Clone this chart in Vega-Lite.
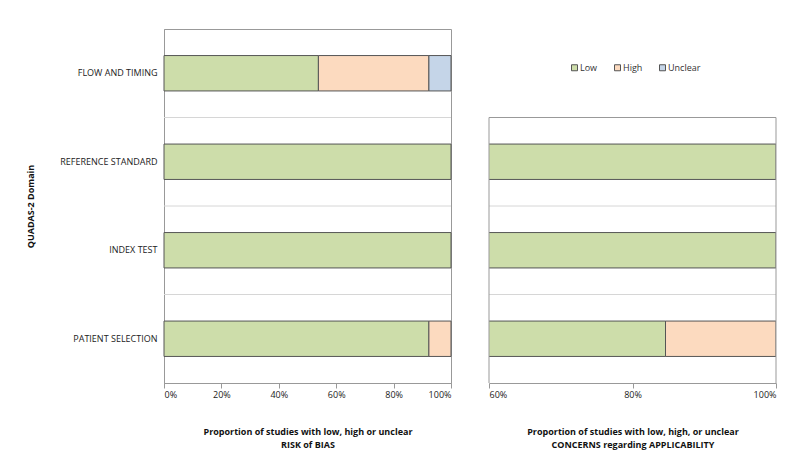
{
  "$schema": "https://vega.github.io/schema/vega-lite/v6.json",
  "padding": {"left": 26, "top": 28, "right": 5, "bottom": 5},
  "background": "white",
  "spacing": 36,
  "datasets": {
    "bias": [
      {"domain": "FLOW AND TIMING", "rating": "Low", "rank": 1, "value": 0.538},
      {"domain": "FLOW AND TIMING", "rating": "High", "rank": 2, "value": 0.385},
      {"domain": "FLOW AND TIMING", "rating": "Unclear", "rank": 3, "value": 0.077},
      {"domain": "REFERENCE STANDARD", "rating": "Low", "rank": 1, "value": 1.0},
      {"domain": "INDEX TEST", "rating": "Low", "rank": 1, "value": 1.0},
      {"domain": "PATIENT SELECTION", "rating": "Low", "rank": 1, "value": 0.923},
      {"domain": "PATIENT SELECTION", "rating": "High", "rank": 2, "value": 0.077}
    ],
    "applic": [
      {"domain": "REFERENCE STANDARD", "rating": "Low", "rank": 1, "value": 1.0},
      {"domain": "INDEX TEST", "rating": "Low", "rank": 1, "value": 1.0},
      {"domain": "PATIENT SELECTION", "rating": "Low", "rank": 1, "value": 0.846},
      {"domain": "PATIENT SELECTION", "rating": "High", "rank": 2, "value": 0.154}
    ],
    "dividers": [
      {"pos": 1},
      {"pos": 2},
      {"pos": 3}
    ],
    "edges": [
      {"edge": 0.6, "from": 0, "to": 3},
      {"edge": 1.0, "from": 0, "to": 3}
    ],
    "frametop": [
      {"lo": 0.6, "hi": 1.0, "top": 3}
    ]
  },
  "resolve": {"scale": {"color": "independent", "y": "independent", "x": "independent"}, "legend": {"color": "independent"}},
  "hconcat": [
    {
      "width": 287,
      "height": 354,
      "resolve": {"scale": {"y": "independent"}, "axis": {"y": "independent"}},
      "layer": [
        {
          "data": {"name": "dividers"},
          "mark": {"type": "rule", "color": "#d6d6d6", "strokeWidth": 1},
          "encoding": {
            "y": {"field": "pos", "type": "quantitative", "scale": {"domain": [0, 4], "nice": false}, "axis": null}
          }
        },
        {
          "data": {"name": "bias"},
          "mark": {"type": "bar", "stroke": "#555555", "strokeWidth": 1},
          "encoding": {
            "y": {
              "field": "domain", "type": "nominal",
              "sort": ["FLOW AND TIMING", "REFERENCE STANDARD", "INDEX TEST", "PATIENT SELECTION"],
              "scale": {"paddingInner": 0.6, "paddingOuter": 0.3},
              "axis": {"title": "QUADAS-2 Domain", "titleFontWeight": "bold", "titleFontSize": 9, "titlePadding": 24,
                       "labelFontSize": 9, "labelPadding": 7, "ticks": false, "grid": false,
                       "domainColor": "#999999", "labelColor": "#222222", "titleColor": "#111111"}
            },
            "x": {
              "field": "value", "type": "quantitative", "stack": "zero",
              "scale": {"domain": [0, 1], "nice": false},
              "axis": {"values": [0, 0.2, 0.4, 0.6, 0.8, 1], "format": ".0%", "grid": false,
                       "title": ["Proportion of studies with low, high or unclear", "RISK of BIAS"],
                       "titleFontWeight": "bold", "titleFontSize": 9, "titlePadding": 28, "titleLineHeight": 13,
                       "labelFontSize": 9, "labelColor": "#222222", "titleColor": "#111111",
                       "domainColor": "#999999", "tickColor": "#999999", "tickSize": 5}
            },
            "color": {
              "field": "rating", "type": "nominal",
              "scale": {"domain": ["Low", "High", "Unclear"], "range": ["#CDDDAA", "#FCDABF", "#C5D5E8"]},
              "legend": null
            },
            "order": {"field": "rank", "type": "quantitative"}
          }
        }
      ]
    },
    {
      "width": 287,
      "height": 354,
      "view": {"stroke": null},
      "resolve": {"scale": {"y": "independent"}, "axis": {"y": "independent"}},
      "layer": [
        {
          "data": {"name": "dividers"},
          "transform": [{"filter": "datum.pos < 3"}],
          "mark": {"type": "rule", "color": "#d6d6d6", "strokeWidth": 1},
          "encoding": {
            "y": {"field": "pos", "type": "quantitative", "scale": {"domain": [0, 4], "nice": false}, "axis": null}
          }
        },
        {
          "data": {"name": "applic"},
          "mark": {"type": "bar", "stroke": "#555555", "strokeWidth": 1, "clip": true},
          "encoding": {
            "y": {
              "field": "domain", "type": "nominal",
              "scale": {"domain": ["FLOW AND TIMING", "REFERENCE STANDARD", "INDEX TEST", "PATIENT SELECTION"], "paddingInner": 0.6, "paddingOuter": 0.3},
              "axis": null
            },
            "x": {
              "field": "value", "type": "quantitative", "stack": "zero",
              "scale": {"domain": [0.6, 1], "nice": false},
              "axis": {"values": [0.6, 0.8, 1], "format": ".0%", "grid": false,
                       "title": ["Proportion of studies with low, high, or unclear", "CONCERNS regarding APPLICABILITY"],
                       "titleFontWeight": "bold", "titleFontSize": 9, "titlePadding": 28, "titleLineHeight": 13,
                       "labelFontSize": 9, "labelColor": "#222222", "titleColor": "#111111",
                       "domainColor": "#999999", "tickColor": "#999999", "tickSize": 5}
            },
            "color": {
              "field": "rating", "type": "nominal",
              "scale": {"domain": ["Low", "High", "Unclear"], "range": ["#CDDDAA", "#FCDABF", "#C5D5E8"]},
              "legend": {"orient": "none", "legendX": 81, "legendY": 34, "direction": "horizontal", "title": null, "symbolType": "square",
                         "symbolSize": 36, "symbolStrokeColor": "#555555", "symbolStrokeWidth": 1,
                         "labelFontSize": 9, "labelColor": "#333333", "columnPadding": 14, "labelOffset": 1,
                         "padding": 0}
            },
            "order": {"field": "rank", "type": "quantitative"}
          }
        },
        {
          "data": {"name": "edges"},
          "mark": {"type": "rule", "color": "#999999", "strokeWidth": 1},
          "encoding": {
            "x": {"field": "edge", "type": "quantitative", "scale": {"domain": [0.6, 1], "nice": false}},
            "y": {"field": "from", "type": "quantitative", "scale": {"domain": [0, 4], "nice": false}, "axis": null},
            "y2": {"field": "to"}
          }
        },
        {
          "data": {"name": "frametop"},
          "mark": {"type": "rule", "color": "#999999", "strokeWidth": 1},
          "encoding": {
            "x": {"field": "lo", "type": "quantitative", "scale": {"domain": [0.6, 1], "nice": false}},
            "x2": {"field": "hi"},
            "y": {"field": "top", "type": "quantitative", "scale": {"domain": [0, 4], "nice": false}, "axis": null}
          }
        }
      ]
    }
  ],
  "config": {
    "font": "Open Sans",
    "view": {"stroke": "#999999"}
  }
}
